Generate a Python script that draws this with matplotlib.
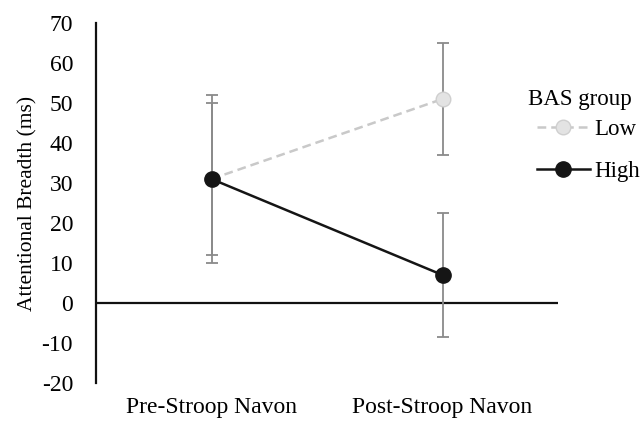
import matplotlib
matplotlib.use("Agg")
import matplotlib.pyplot as plt
from matplotlib.lines import Line2D

plt.rcParams["font.family"] = ["Liberation Serif", "DejaVu Serif"]

conditions = ["Pre-Stroop Navon", "Post-Stroop Navon"]
groups = ["Low", "High"]
low_mean = [31, 51]
low_err = [21, 14]
high_mean = [31, 7]
high_err = [19, 15.5]
yticks = [-20, -10, 0, 10, 20, 30, 40, 50, 60, 70]

LOW_LINE = "#c9c9c9"
LOW_FACE = "#e3e3e3"
HIGH = "#151515"
ERR = "#8a8a8a"

fig = plt.figure(figsize=(6.43, 4.25), dpi=100)
ax = fig.add_axes([96 / 643, 1 - 383 / 425, 462 / 643, 360 / 425])

x = list(range(len(conditions)))

ax.axhline(0, color="#111111", lw=1.6, zorder=1)

# error bars first, grey, under the lines
ax.errorbar(x, low_mean, yerr=low_err, fmt="none", ecolor=ERR, elinewidth=1.3,
            capsize=4.5, capthick=1.3, zorder=2)
ax.errorbar(x, high_mean, yerr=high_err, fmt="none", ecolor=ERR, elinewidth=1.3,
            capsize=4.5, capthick=1.3, zorder=2)

low_style = dict(color=LOW_LINE, lw=1.8, ls=(0, (3.5, 2)), marker="o", ms=10.5,
                 mfc=LOW_FACE, mec="#cfcfcf", mew=1.0)
high_style = dict(color=HIGH, lw=1.8, ls="-", marker="o", ms=11,
                  mfc=HIGH, mec=HIGH, mew=1.0)
ax.plot(x, low_mean, zorder=3, **low_style)
ax.plot(x, high_mean, zorder=4, **high_style)

ax.set_xlim(-0.5, 1.5)
ax.set_ylim(-20, 70)
ax.set_yticks(yticks)
ax.set_yticklabels([str(v) for v in yticks])
ax.set_xticks(x)
ax.set_xticklabels(conditions)
ax.tick_params(axis="y", length=0, pad=16.5, labelsize=17)
ax.tick_params(axis="x", length=0, pad=10, labelsize=17)
for s in ["top", "right", "bottom"]:
    ax.spines[s].set_visible(False)
ax.spines["left"].set_linewidth(1.6)
ax.spines["left"].set_color("#111111")
ax.set_ylabel("Attentional Breadth (ms)", fontsize=15.5, labelpad=3)

# legend title placed on its own (tighter gap than labelspacing allows)
fig.text(528 / 643, 1 - 100 / 425, "BAS group", fontsize=16.5, ha="left", va="center")
handles = [Line2D([], [], **low_style), Line2D([], [], **high_style)]
fig.legend(handles, groups, loc="upper left", bbox_to_anchor=(537 / 643, 1 - 119 / 425),
           frameon=False, fontsize=16.5, handlelength=2.3, handletextpad=0.2,
           labelspacing=0.9, borderaxespad=0, borderpad=0)

fig.savefig("out.png", dpi=100)
